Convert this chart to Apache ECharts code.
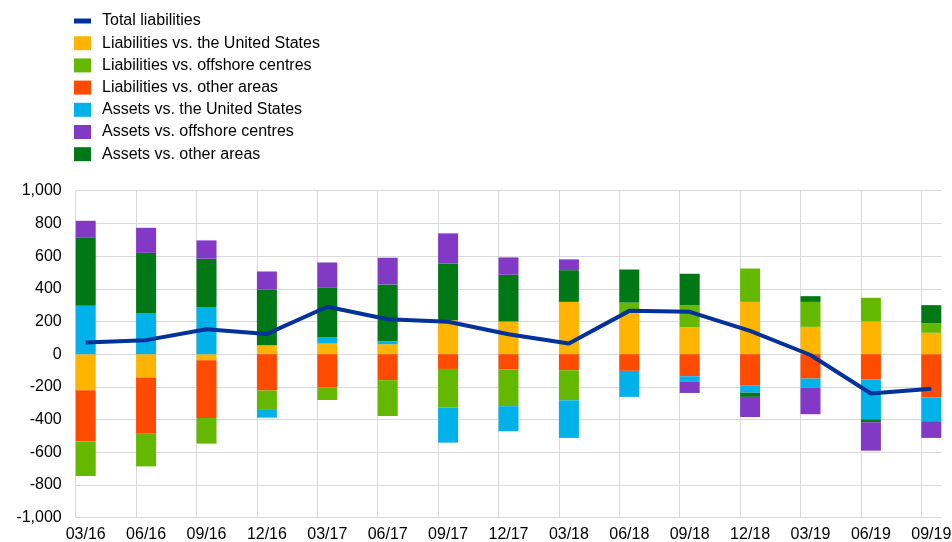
<!doctype html>
<html>
    <head>
        <meta charset="utf-8">
        <title>External positions</title>
        <style>
            html, body { margin: 0; padding: 0; background: #fff; }
            #main { width: 952px; height: 542px; }
        </style>
    </head>
    <body>
        <div id="main"></div>
        <script src="https://cdn.jsdelivr.net/npm/echarts@6/dist/echarts.min.js"></script>
        <script>
            var categories = ['03/16', '06/16', '09/16', '12/16', '03/17', '06/17', '09/17', '12/17',
                '03/18', '06/18', '09/18', '12/18', '03/19', '06/19', '09/19'];

            var liabUS = [-220, -143, -37, 55, 65, 61, 208, 200, 320, 251, 165, 320, 167, 200, 131];
            var liabOther = [-313, -343, -353, -222, -204, -159, -90, -94, -98, -102, -135, -190, -149, -155, -265];
            var liabOffshore = [-212, -200, -157, -119, -76, -219, -237, -224, -184, 65, 135, 204, 153, 145, 59];
            var assetsUS = [296, 251, 288, -47, 37, 19, -214, -153, -230, -159, -34, -45, -57, -243, -145];
            var assetsOther = [416, 369, 296, 341, 304, 347, 347, 286, 194, 202, 192, -26, 35, -18, 110];
            var assetsOffshore = [104, 153, 112, 110, 155, 163, 184, 106, 66, 0, -68, -123, -161, -174, -102];
            var totalLiab = [71, 86, 153, 124, 290, 214, 198, 122, 65, 265, 259, 143, -5, -240, -212];

            var font = 'Liberation Sans, Arial, sans-serif';
            var gridColor = '#d9d9d9';

            function bar(name, data, color) {
                return {
                    name: name,
                    type: 'bar',
                    stack: 'all',
                    barWidth: 20,
                    clip: false,
                    xAxisIndex: 0,
                    yAxisIndex: 0,
                    itemStyle: { color: color },
                    data: data
                };
            }

            var chart = echarts.init(document.getElementById('main'));

            chart.setOption({
                animation: false,
                textStyle: { fontFamily: font },
                legend: {
                    orient: 'vertical',
                    left: 69,
                    top: 8,
                    itemWidth: 17,
                    itemHeight: 14,
                    itemGap: 6.2,
                    textStyle: { fontSize: 16, color: '#000', fontFamily: font, padding: [0, 0, 0, 6] },
                    data: [
                        { name: 'Total liabilities', icon: 'path://M0,0H17V5H0Z' },
                        { name: 'Liabilities vs. the United States', icon: 'rect' },
                        { name: 'Liabilities vs. offshore centres', icon: 'rect' },
                        { name: 'Liabilities vs. other areas', icon: 'rect' },
                        { name: 'Assets vs. the United States', icon: 'rect' },
                        { name: 'Assets vs. offshore centres', icon: 'rect' },
                        { name: 'Assets vs. other areas', icon: 'rect' }
                    ]
                },
                grid: [
                    { left: 85.7, right: 20.7, top: 190.7, bottom: 24.3, outerBoundsMode: 'none' },
                    { left: 75.7, right: 10.3, top: 190.7, bottom: 24.3, outerBoundsMode: 'none' }
                ],
                xAxis: [
                    {
                        type: 'category',
                        gridIndex: 0,
                        boundaryGap: false,
                        data: categories,
                        axisLine: { show: false },
                        axisTick: { show: false },
                        splitLine: { show: false },
                        axisLabel: { margin: 9, fontSize: 16, color: '#000', fontFamily: font }
                    },
                    {
                        type: 'value',
                        gridIndex: 1,
                        min: 0,
                        max: 866 / 60.4,
                        interval: 1,
                        axisLine: { show: false },
                        axisTick: { show: false },
                        axisLabel: { show: false },
                        splitLine: { show: true, showMaxLine: false, lineStyle: { color: gridColor, width: 1 } }
                    }
                ],
                yAxis: [
                    {
                        type: 'value',
                        gridIndex: 0,
                        min: -1000,
                        max: 1000,
                        interval: 200,
                        axisLine: { show: false },
                        axisTick: { show: false },
                        axisLabel: { show: false },
                        splitLine: { show: false }
                    },
                    {
                        type: 'value',
                        gridIndex: 1,
                        min: -1000,
                        max: 1000,
                        interval: 200,
                        axisLine: { show: false },
                        axisTick: { show: false },
                        axisLabel: { margin: 14, fontSize: 16, color: '#000', fontFamily: font },
                        splitLine: { show: true, lineStyle: { color: gridColor, width: 1 } }
                    }
                ],
                series: [
                    bar('Liabilities vs. the United States', liabUS, '#ffb400'),
                    bar('Liabilities vs. other areas', liabOther, '#ff4b00'),
                    bar('Liabilities vs. offshore centres', liabOffshore, '#65b800'),
                    bar('Assets vs. the United States', assetsUS, '#00b1ea'),
                    bar('Assets vs. other areas', assetsOther, '#007816'),
                    bar('Assets vs. offshore centres', assetsOffshore, '#8139c6'),
                    {
                        name: 'Total liabilities',
                        type: 'line',
                        xAxisIndex: 0,
                        yAxisIndex: 0,
                        symbol: 'none',
                        z: 5,
                        clip: false,
                        lineStyle: { color: '#003299', width: 4 },
                        itemStyle: { color: '#003299' },
                        data: totalLiab
                    }
                ]
            });

            window.addEventListener('resize', function () {
                chart.resize();
            });
        </script>
    </body>
</html>
